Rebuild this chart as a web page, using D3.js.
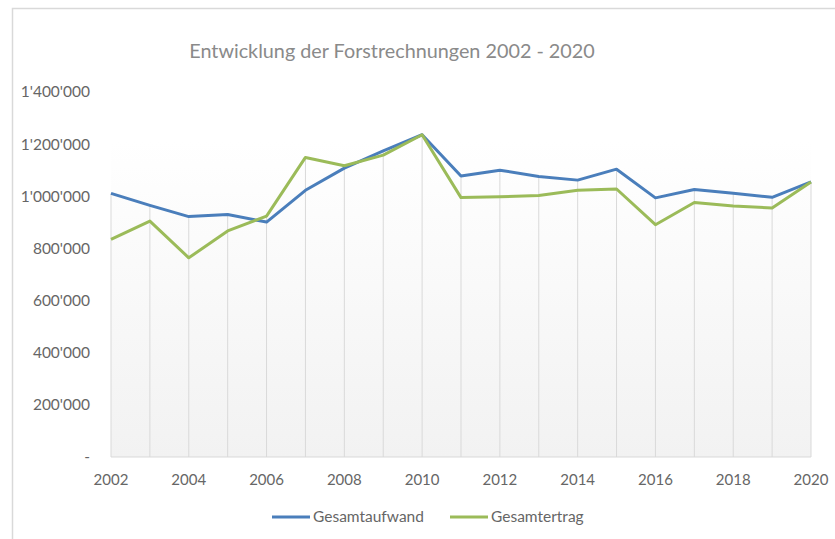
<!DOCTYPE html>
<html>
<head>
<meta charset="utf-8">
<script src="https://cdn.jsdelivr.net/npm/d3@7.9.0/dist/d3.min.js"></script>
<style>
  body { margin: 0; background: #fff; }
  svg { display: block; font-family: Lato, "Open Sans", sans-serif; }
</style>
</head>
<body>
<div id="chart"></div>
<script>
// Data
const years = [2002, 2003, 2004, 2005, 2006, 2007, 2008, 2009, 2010, 2011,
               2012, 2013, 2014, 2015, 2016, 2017, 2018, 2019, 2020];
const aufwand = [1011000, 965000, 922000, 930000, 901000, 1023000, 1108000, 1174000, 1236000, 1078000,
                 1100000, 1076000, 1062000, 1104000, 994000, 1026000, 1012000, 996000, 1055000];
const ertrag = [835000, 905000, 764000, 867000, 924000, 1149000, 1117000, 1158000, 1236000, 995000,
                998000, 1003000, 1023000, 1028000, 891000, 976000, 963000, 955000, 1055000];
const yTicks = [0, 200000, 400000, 600000, 800000, 1000000, 1200000, 1400000];
const xTicks = [2002, 2004, 2006, 2008, 2010, 2012, 2014, 2016, 2018, 2020];
const seriesNames = ["Gesamtaufwand", "Gesamtertrag"];
const seriesColors = ["#4a7ebb", "#9bbb59"];

// Setup dimensions
const W = 835, H = 539;
const margin = {top: 92, right: 24, bottom: 82, left: 111};
const width = W - margin.left - margin.right;
const height = H - margin.top - margin.bottom;

const svg = d3.select("#chart")
    .append("svg")
    .attr("width", W)
    .attr("height", H);

// chart border (only top and left visible)
svg.append("path")
    .attr("d", `M12.5,${H} V8.5 H${W}`)
    .attr("fill", "none")
    .attr("stroke", "#d9d9d9")
    .attr("stroke-width", 1.5);

const g = svg.append("g")
    .attr("transform", `translate(${margin.left},${margin.top})`);

// Scales
const x = d3.scaleLinear()
    .domain([2002, 2020])
    .range([0, width]);

const y = d3.scaleLinear()
    .domain([0, 1400000])
    .range([height, 0]);

// Plot area gradient
const grad = svg.append("defs").append("linearGradient")
    .attr("id", "bg")
    .attr("x1", 0).attr("y1", 0).attr("x2", 0).attr("y2", 1);
grad.append("stop").attr("offset", "0").attr("stop-color", "#ffffff");
grad.append("stop").attr("offset", "1").attr("stop-color", "#f2f2f2");

g.append("rect")
    .attr("x", 0)
    .attr("y", y(1215000))
    .attr("width", width)
    .attr("height", height - y(1215000))
    .attr("fill", "url(#bg)");

// Drop lines from the higher series down to the axis
g.selectAll(".drop")
    .data(years)
    .join("line")
    .attr("class", "drop")
    .attr("x1", d => x(d))
    .attr("x2", d => x(d))
    .attr("y1", (d, i) => y(Math.max(aufwand[i], ertrag[i])))
    .attr("y2", height)
    .attr("stroke", "#d9d9d9")
    .attr("stroke-width", 1);

// X axis line
g.append("line")
    .attr("x1", 0).attr("x2", width)
    .attr("y1", height).attr("y2", height)
    .attr("stroke", "#d9d9d9")
    .attr("stroke-width", 1);

// Y axis labels
const fmt = v => v === 0 ? "-" : d3.format(",")(v).replace(/,/g, "'");
g.selectAll(".ylab")
    .data(yTicks)
    .join("text")
    .attr("class", "ylab")
    .attr("x", -21)
    .attr("y", d => y(d))
    .attr("dy", "0.35em")
    .attr("text-anchor", "end")
    .attr("fill", "#666")
    .style("font-size", "15.5px")
    .text(fmt);

// X axis labels
g.selectAll(".xlab")
    .data(xTicks)
    .join("text")
    .attr("class", "xlab")
    .attr("x", d => x(d))
    .attr("y", height + 28)
    .attr("text-anchor", "middle")
    .attr("fill", "#666")
    .style("font-size", "15px")
    .text(d => d);

// Lines
const line = d3.line()
    .x((d, i) => x(years[i]))
    .y(d => y(d));

[aufwand, ertrag].forEach((s, k) => {
    g.append("path")
        .datum(s)
        .attr("fill", "none")
        .attr("stroke", seriesColors[k])
        .attr("stroke-width", 3)
        .attr("stroke-linejoin", "round")
        .attr("d", line);
});

// Title
svg.append("text")
    .attr("x", 392)
    .attr("y", 58)
    .attr("text-anchor", "middle")
    .attr("fill", "#8a8a8a")
    .style("font-size", "19.8px")
    .text("Entwicklung der Forstrechnungen 2002 - 2020");

// Legend
const legendX = [272, 450];
seriesNames.forEach((name, k) => {
    svg.append("line")
        .attr("x1", legendX[k]).attr("x2", legendX[k] + 38)
        .attr("y1", 517).attr("y2", 517)
        .attr("stroke", seriesColors[k])
        .attr("stroke-width", 3);
    svg.append("text")
        .attr("x", legendX[k] + 41)
        .attr("y", 517)
        .attr("dy", "0.35em")
        .attr("fill", "#666")
        .style("font-size", "15.5px")
        .text(name);
});
</script>
</body>
</html>
